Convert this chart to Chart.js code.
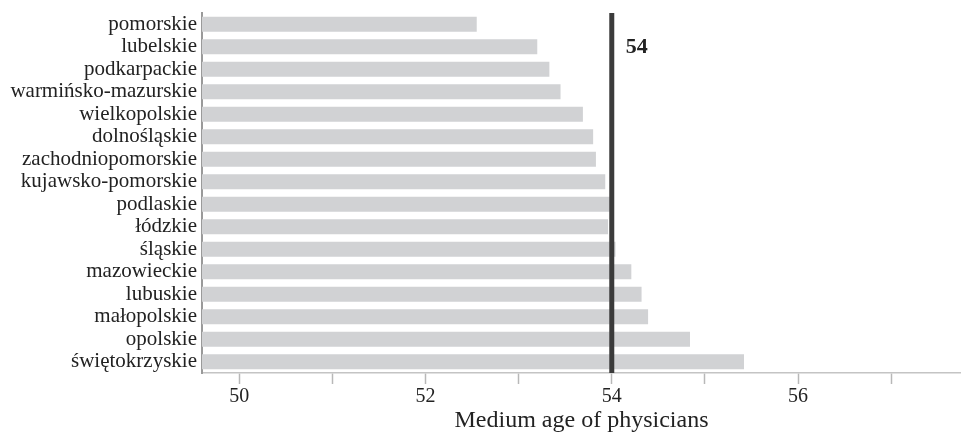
<!DOCTYPE html>
<html>
<head>
<meta charset="utf-8">
<script src="https://cdn.jsdelivr.net/npm/chart.js@4"></script>
<style>
  html, body { margin: 0; padding: 0; background: #fff; }
  #wrap { width: 961px; height: 435px; }
</style>
</head>
<body>
<div id="wrap"><canvas id="ageChart" width="961" height="435"></canvas></div>
<script>
const regions = [
    'pomorskie', 'lubelskie', 'podkarpackie', 'warmińsko-mazurskie',
    'wielkopolskie', 'dolnośląskie', 'zachodniopomorskie', 'kujawsko-pomorskie',
    'podlaskie', 'łódzkie', 'śląskie', 'mazowieckie',
    'lubuskie', 'małopolskie', 'opolskie', 'świętokrzyskie'
];
const medianAge = [
    52.55, 53.20, 53.33, 53.45,
    53.69, 53.80, 53.83, 53.93,
    53.98, 53.96, 54.04, 54.21,
    54.32, 54.39, 54.84, 55.42
];
const refValue = 54;
const refLabel = '54';
const axisMin = 49.6;
const axisMax = 57.75;
const labelledTicks = [50, 52, 54, 56];
const axisTitle = 'Medium age of physicians';

const serif = '"Liberation Serif", "Times New Roman", serif';

const refLine = {
    id: 'refLine',
    afterDatasetsDraw(chart) {
        const ctx = chart.ctx;
        const x = chart.scales.x.getPixelForValue(refValue);
        const area = chart.chartArea;
        ctx.save();
        ctx.strokeStyle = '#3b3b3b';
        ctx.lineWidth = 5;
        ctx.beginPath();
        ctx.moveTo(x, area.top);
        ctx.lineTo(x, area.bottom);
        ctx.stroke();

        // label next to the line, level with the second row
        const y = chart.scales.y.getPixelForValue(1);
        ctx.fillStyle = '#222';
        ctx.font = 'bold 22px ' + serif;
        ctx.textAlign = 'left';
        ctx.textBaseline = 'middle';
        ctx.fillText(refLabel, x + 14, y + 1);
        ctx.restore();
    }
};

const ctx = document.getElementById('ageChart').getContext('2d');
new Chart(ctx, {
    type: 'bar',
    data: {
        labels: regions,
        datasets: [{
            data: medianAge,
            backgroundColor: '#d1d2d4',
            borderWidth: 0,
            barPercentage: 0.667,
            categoryPercentage: 1
        }]
    },
    options: {
        indexAxis: 'y',
        responsive: false,
        animation: false,
        devicePixelRatio: 1,
        layout: { padding: { top: 13, right: 0, left: 0, bottom: 0 } },
        plugins: {
            legend: { display: false },
            tooltip: { enabled: false }
        },
        scales: {
            x: {
                type: 'linear',
                min: axisMin,
                max: axisMax,
                afterFit(scale) { scale.height = 62; },
                ticks: {
                    stepSize: 1,
                    includeBounds: false,
                    padding: 1,
                    color: '#222',
                    font: { family: serif, size: 20 },
                    callback: v => labelledTicks.includes(v) ? String(v) : ''
                },
                grid: {
                    drawOnChartArea: false,
                    drawTicks: true,
                    tickLength: 11,
                    tickWidth: 1.5,
                    tickColor: '#b8b8b8'
                },
                border: { color: '#c4c4c4', width: 1.5 },
                title: {
                    display: true,
                    text: axisTitle,
                    color: '#222',
                    font: { family: serif, size: 24 },
                    padding: { top: 0, bottom: 0 }
                }
            },
            y: {
                afterFit(scale) {
                    scale.width = 202;
                    scale.paddingTop = 0;
                    scale.paddingBottom = 0;
                },
                ticks: {
                    autoSkip: false,
                    padding: 5,
                    color: '#222',
                    font: { family: serif, size: 21 }
                },
                grid: { display: true, drawOnChartArea: false, drawTicks: false },
                border: { color: '#9a9a9a', width: 2 }
            }
        }
    },
    plugins: [refLine]
});
</script>
</body>
</html>
